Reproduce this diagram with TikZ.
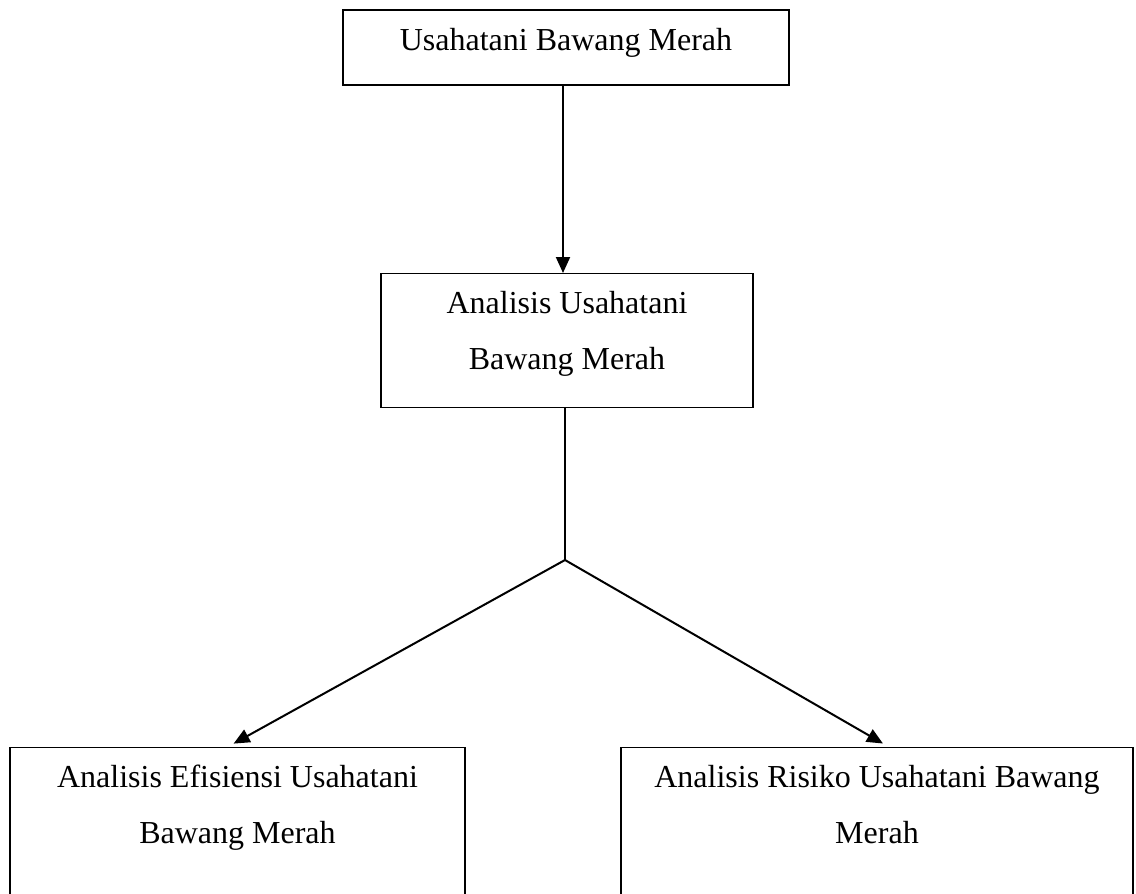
\documentclass[tikz,border=0pt]{standalone}
\usepackage{fontspec}
\setmainfont{Liberation Serif}
\usetikzlibrary{arrows.meta}
\tikzset{>={Triangle[length=8pt,width=7pt]}}

\begin{document}
\begin{tikzpicture}[x=0.5pt,y=-0.5pt,
box/.style = {
    draw, line width=#1,
    anchor=north, inner sep=0pt, align=center,
    font=\fontsize{16pt}{27.75pt}\selectfont,
                },
box/.default=0.6pt,
link/.style = {line width=#1},
link/.default=1pt,
                    ]
\useasboundingbox (0,0) rectangle (1136,894);
\node (usaha) [box=1pt, minimum width=223pt,
               text height=20pt, text depth=17.5pt]
    at (566,9) {Usahatani Bawang Merah};
\node (analisis) [box, minimum width=186pt,
                  text height=47.75pt, text depth=19.25pt]
    at (567,273) {Analisis Usahatani\\Bawang Merah};
\node (efisiensi) [box, minimum width=227.5pt,
                   text height=47.75pt, text depth=48.75pt]
    at (237.5,747) {Analisis Efisiensi Usahatani\\Bawang Merah};
\node (risiko) [box, minimum width=256pt,
                text height=47.75pt, text depth=48.75pt]
    at (877,747) {Analisis Risiko Usahatani Bawang\\Merah};
\coordinate (cabang) at (565,560);
\draw[link,->] ([xshift=-2pt]analisis.north |- usaha.south)
                              -- ([xshift=-2pt]analisis.north);
\draw[link=0.7pt] ([xshift=-1pt]analisis.south) -- (cabang);
\draw[link,->,shorten >=3.5pt] (cabang) -- ([xshift=-5pt]efisiensi.north);
\draw[link,->,shorten >=3.5pt] (cabang) -- ([xshift=6pt]risiko.north);
\end{tikzpicture}
\end{document}
